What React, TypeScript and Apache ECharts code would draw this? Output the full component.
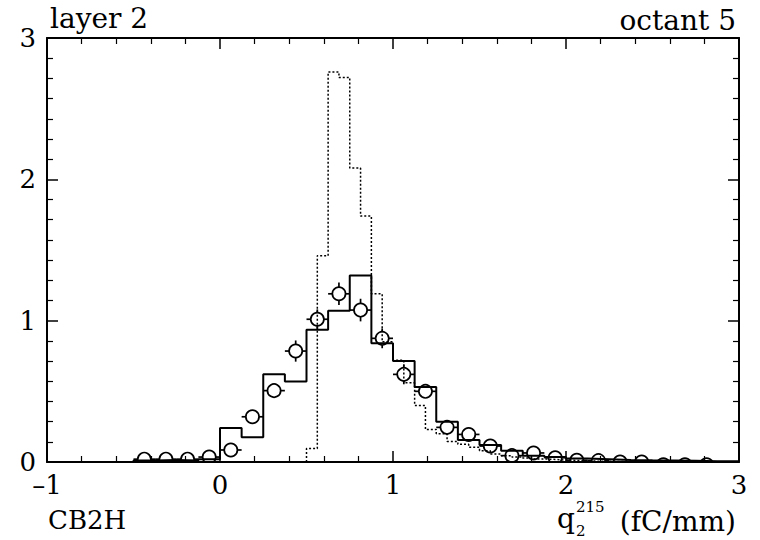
import React, { useEffect, useRef } from "react";
import * as echarts from "echarts";

// Solid histogram (bin width 0.125): left bin edges and contents
const solidEdges = [-0.5, -0.375, -0.25, -0.125, 0, 0.125, 0.25, 0.375, 0.5, 0.625, 0.75, 0.875, 1.0, 1.125, 1.25, 1.375, 1.5, 1.625, 1.75, 1.875, 2.0, 2.125, 2.25, 2.375, 2.5, 2.625, 2.75, 2.875];
const solidEnd = 3.0;
const solidValues = [0.01, 0.015, 0.01, 0.02, 0.24, 0.175, 0.62, 0.57, 0.935, 1.07, 1.32, 0.84, 0.715, 0.53, 0.285, 0.155, 0.12, 0.08, 0.045, 0.035, 0.025, 0.02, 0.015, 0.012, 0.01, 0.008, 0.006, 0.005];

// Dotted histogram (bin width 0.0625)
const dottedEdges = [0.5, 0.5625, 0.625, 0.6875, 0.75, 0.8125, 0.875, 0.9375, 1.0, 1.0625, 1.125, 1.1875, 1.25, 1.3125, 1.375, 1.4375, 1.5, 1.5625, 1.625, 1.6875, 1.75, 1.8125, 1.875, 1.9375, 2.0, 2.0625, 2.125, 2.1875, 2.25, 2.3125, 2.375, 2.4375, 2.5];
const dottedEnd = 2.5625;
const dottedValues = [0.095, 1.46, 2.76, 2.72, 2.08, 1.74, 1.19, 0.85, 0.72, 0.56, 0.4, 0.23, 0.2, 0.145, 0.125, 0.105, 0.08, 0.057, 0.045, 0.035, 0.028, 0.022, 0.018, 0.014, 0.011, 0.008, 0.006, 0.005, 0.004, 0.003, 0.003, 0.002, 0.002];

// Data points with error bars
const pointX = [-0.4375, -0.3125, -0.1875, -0.0625, 0.0625, 0.1875, 0.3125, 0.4375, 0.5625, 0.6875, 0.8125, 0.9375, 1.0625, 1.1875, 1.3125, 1.4375, 1.5625, 1.6875, 1.8125, 1.9375, 2.0625, 2.1875, 2.3125, 2.4375, 2.5625, 2.6875, 2.8125];
const pointY = [0.02, 0.02, 0.02, 0.035, 0.085, 0.32, 0.505, 0.785, 1.01, 1.19, 1.075, 0.875, 0.62, 0.5, 0.245, 0.195, 0.113, 0.045, 0.064, 0.03, 0.012, 0.01, 0.0, 0.0, -0.02, -0.02, -0.02];
const pointErrY = [0.01, 0.01, 0.01, 0.01, 0.02, 0.04, 0.04, 0.075, 0.07, 0.08, 0.08, 0.07, 0.07, 0.045, 0.03, 0.03, 0.02, 0.02, 0.02, 0.01, 0.01, 0.01, 0.01, 0.01, 0.01, 0.01, 0.01];
const pointErrX = 0.0625;

const xTicks = [-1, 0, 1, 2, 3];
const yTicks = [0, 1, 2, 3];

const FONT = '"DejaVu Serif", serif';

function histData(edges: number[], values: number[], end: number) {
  const d: number[][] = [[edges[0], 0]];
  edges.forEach((e, i) => d.push([e, values[i]]));
  d.push([end, values[values.length - 1]]);
  d.push([end, 0]);
  return d;
}

export default function App() {
  const ref = useRef<HTMLDivElement>(null);
  useEffect(() => {
    if (!ref.current) return;
    const chart = echarts.init(ref.current, undefined, { renderer: "svg" });
    const R = 6.6;
    const axisCommon = {
      type: "value",
      splitLine: { show: false },
      axisLine: { show: true, onZero: false, lineStyle: { color: "#000", width: 2 } },
      axisTick: { show: true, inside: true, length: 11, lineStyle: { color: "#000", width: 1.5 } },
    };
    const option: any = {
      animation: false,
      backgroundColor: "#fff",
      grid: { left: 47, right: 21, top: 38, bottom: 78, containLabel: false },
      xAxis: [
        {
          ...axisCommon,
          position: "bottom",
          min: xTicks[0],
          max: xTicks[xTicks.length - 1],
          interval: 1,
          minorTick: { show: true, splitNumber: 5, length: 6, lineStyle: { color: "#000", width: 1.2 } },
          axisLabel: {
            show: true,
            margin: 10,
            color: "#000",
            fontFamily: FONT,
            fontSize: 26,
            lineHeight: 26,
            formatter: (v: number) => String(v).replace("-", "\u2013"),
          },
        },
        {
          ...axisCommon,
          position: "top",
          min: xTicks[0],
          max: xTicks[xTicks.length - 1],
          interval: 1,
          minorTick: { show: true, splitNumber: 5, length: 6, lineStyle: { color: "#000", width: 1.2 } },
          axisLabel: { show: false },
        },
      ],
      yAxis: [
        {
          ...axisCommon,
          position: "left",
          min: yTicks[0],
          max: yTicks[yTicks.length - 1],
          interval: 1,
          minorTick: { show: true, splitNumber: 7, length: 6, lineStyle: { color: "#000", width: 1.2 } },
          axisLabel: { show: true, margin: 11, color: "#000", fontFamily: FONT, fontSize: 26, lineHeight: 22, padding: [0, 0, 6, 0] },
        },
        {
          ...axisCommon,
          position: "right",
          min: yTicks[0],
          max: yTicks[yTicks.length - 1],
          interval: 1,
          minorTick: { show: true, splitNumber: 7, length: 6, lineStyle: { color: "#000", width: 1.2 } },
          axisLabel: { show: false },
        },
      ],
      series: [
        {
          type: "line",
          step: "end",
          symbol: "none",
          data: histData(solidEdges, solidValues, solidEnd),
          lineStyle: { color: "#000", width: 2 },
          z: 3,
        },
        {
          type: "line",
          step: "end",
          symbol: "none",
          data: histData(dottedEdges, dottedValues, dottedEnd),
          lineStyle: { color: "#000", width: 1.5, type: [2, 2] },
          z: 2,
        },
        {
          type: "custom",
          clip: true,
          z: 4,
          data: pointX.map((x, i) => [x, pointY[i], pointErrY[i], pointErrX]),
          encode: { x: 0, y: 1 },
          renderItem: (params: any, api: any) => {
            const x = api.value(0);
            const y = api.value(1);
            const ey = api.value(2);
            const ex = api.value(3);
            const c = api.coord([x, y]);
            const l = api.coord([x - ex, y]);
            const r = api.coord([x + ex, y]);
            const t = api.coord([x, y + ey]);
            const b = api.coord([x, y - ey]);
            const st = { stroke: "#000", lineWidth: 1.7, fill: null };
            const children: any[] = [
              { type: "circle", shape: { cx: c[0], cy: c[1], r: R }, style: { ...st, fill: "none" } },
              { type: "line", shape: { x1: l[0], y1: c[1], x2: c[0] - R, y2: c[1] }, style: st },
              { type: "line", shape: { x1: c[0] + R, y1: c[1], x2: r[0], y2: c[1] }, style: st },
            ];
            if (t[1] < c[1] - R) {
              children.push({ type: "line", shape: { x1: c[0], y1: t[1], x2: c[0], y2: c[1] - R }, style: st });
              children.push({ type: "line", shape: { x1: c[0], y1: c[1] + R, x2: c[0], y2: b[1] }, style: st });
            }
            return { type: "group", children };
          },
        },
      ],
      graphic: [
        { type: "text", x: 50, y: 18, style: { text: "layer 2", font: `28px ${FONT}`, fill: "#000", textAlign: "left", textVerticalAlign: "middle", align: "left", verticalAlign: "middle" } },
        { type: "text", x: 736, y: 20, style: { text: "octant 5", font: `28px ${FONT}`, fill: "#000", textAlign: "right", textVerticalAlign: "middle", align: "right", verticalAlign: "middle" } },
        { type: "text", x: 48, y: 520, style: { text: "CB2H", font: `26px ${FONT}`, fill: "#000", textAlign: "left", textVerticalAlign: "middle", align: "left", verticalAlign: "middle" } },
        { type: "text", x: 736, y: 521, style: { text: "(fC/mm)", font: `28px ${FONT}`, fill: "#000", textAlign: "right", textVerticalAlign: "middle", align: "right", verticalAlign: "middle" } },
        { type: "text", x: 575, y: 518, style: { text: "q", font: `28px ${FONT}`, fill: "#000", textAlign: "right", textVerticalAlign: "middle", align: "right", verticalAlign: "middle" } },
        { type: "text", x: 576, y: 507, style: { text: "215", font: `15px ${FONT}`, fill: "#000", textAlign: "left", textVerticalAlign: "middle", align: "left", verticalAlign: "middle" } },
        { type: "text", x: 576, y: 531, style: { text: "2", font: `15px ${FONT}`, fill: "#000", textAlign: "left", textVerticalAlign: "middle", align: "left", verticalAlign: "middle" } },
      ],
    };
    chart.setOption(option);
    return () => chart.dispose();
  }, []);
  return <div ref={ref} style={{ position: "fixed", left: 0, top: 0, width: 760, height: 540, background: "#fff" }} />;
}
